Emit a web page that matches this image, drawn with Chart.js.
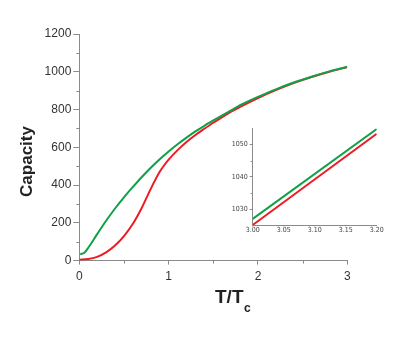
<!DOCTYPE html>
<html>
<head>
<meta charset="utf-8">
<script src="https://cdn.jsdelivr.net/npm/chart.js@4.4.1/dist/chart.umd.min.js"></script>
<style>
  body { margin: 0; background: #fff; }
  #wrap { position: relative; width: 415px; height: 339px; }
  #mainChart { position: absolute; left: 0; top: 0; }
  #insetChart { position: absolute; left: 220px; top: 120px; }
</style>
</head>
<body>
<div id="wrap">
  <canvas id="mainChart" width="415" height="339"></canvas>
  <canvas id="insetChart" width="170" height="120"></canvas>
</div>
<script>
// values (T/Tc, capacity)
const greenX = [0.01, 0.03, 0.06, 0.1, 0.2, 0.3, 0.4, 0.5, 0.6, 0.7, 0.8, 0.9, 1.0, 1.1, 1.2, 1.3, 1.4, 1.5, 1.6, 1.7, 1.8, 1.9, 2.0, 2.2, 2.4, 2.6, 2.8, 3.0];
const greenY = [34, 36, 43, 68, 140, 211, 276, 335, 390, 443, 492, 537, 578, 616, 651, 684, 714, 742, 769, 796, 823, 846, 867, 907, 943, 974, 1002, 1027];
const redX = [0.0, 0.1, 0.2, 0.3, 0.4, 0.5, 0.6, 0.7, 0.8, 0.9, 0.95, 1.0, 1.1, 1.2, 1.3, 1.4, 1.5, 1.6, 1.7, 1.8, 2.0, 2.2, 2.4, 2.6, 2.8, 3.0];
const redY = [5, 8, 20, 44, 80, 130, 195, 280, 380, 470, 505, 535, 585, 628, 665, 698, 730, 760, 789, 814, 861, 903, 940, 972, 1000, 1025];

// inset (zoom on 3.0 - 3.2)
const insetX = [3.00, 3.20];
const insetGreenY = [1027.0, 1054.8];
const insetRedY = [1025.1, 1053.3];

const xTicks = [0, 1, 2, 3];
const yTicks = [0, 200, 400, 600, 800, 1000, 1200];
const insetXTicks = [3.00, 3.05, 3.10, 3.15, 3.20];
const insetYTicks = [1030, 1040, 1050];

const GREEN = '#10a048';
const RED = '#ec1c24';
const AXIS = '#8a8a8a';

function pts(xs, ys) {
    return xs.map((x, i) => ({ x: x, y: ys[i] }));
}

function setTicks(list) {
    return function (scale) {
        scale.ticks = list.map(v => ({ value: v }));
    };
}

// small minor ticks between the major ones
const minorTicks = {
    id: 'minorTicks',
    afterDraw(chart, args, opts) {
        const ctx = chart.ctx;
        const xs = chart.scales.x, ys = chart.scales.y;
        ctx.save();
        ctx.strokeStyle = AXIS;
        ctx.lineWidth = 1;
        (opts.x || []).forEach(v => {
            const px = Math.round(xs.getPixelForValue(v)) + 0.5;
            ctx.beginPath();
            ctx.moveTo(px, ys.bottom);
            ctx.lineTo(px, ys.bottom + opts.len);
            ctx.stroke();
        });
        (opts.y || []).forEach(v => {
            const py = Math.round(ys.getPixelForValue(v)) + 0.5;
            ctx.beginPath();
            ctx.moveTo(xs.left, py);
            ctx.lineTo(xs.left - opts.len, py);
            ctx.stroke();
        });
        ctx.restore();
    }
};

// axis titles ("T/Tc" needs a subscript)
const axisTitles = {
    id: 'axisTitles',
    afterDraw(chart) {
        const ctx = chart.ctx;
        ctx.save();
        ctx.fillStyle = '#222';
        ctx.font = 'bold 19px "Liberation Sans", Arial, sans-serif';
        ctx.textAlign = 'left';
        ctx.textBaseline = 'alphabetic';
        ctx.fillText('T/T', 215, 303);
        const w = ctx.measureText('T/T').width;
        ctx.font = 'bold 12px "Liberation Sans", Arial, sans-serif';
        ctx.fillText('c', 215 + w + 0.5, 311.5);

        ctx.translate(31.5, 161.5);
        ctx.rotate(-Math.PI / 2);
        ctx.textAlign = 'center';
        ctx.font = 'bold 17px "Liberation Sans", Arial, sans-serif';
        ctx.fillText('Capacity', 0, 0);
        ctx.restore();
    }
};

const lineStyle = {
    borderWidth: 2,
    pointRadius: 0,
    fill: false,
    cubicInterpolationMode: 'monotone'
};

new Chart(document.getElementById('mainChart'), {
    type: 'line',
    data: {
        datasets: [
            Object.assign({ label: 'green', data: pts(greenX, greenY), borderColor: GREEN }, lineStyle),
            Object.assign({ label: 'red', data: pts(redX, redY), borderColor: RED }, lineStyle)
        ]
    },
    options: {
        responsive: false,
        animation: false,
        layout: { padding: { left: 0, top: 34, right: 67.7, bottom: 0 } },
        plugins: {
            legend: { display: false },
            tooltip: { enabled: false },
            minorTicks: { x: [0.5, 1.5, 2.5], y: [100, 300, 500, 700, 900, 1100], len: 3 }
        },
        scales: {
            x: {
                type: 'linear',
                min: 0,
                max: 3,
                afterBuildTicks: setTicks(xTicks),
                afterFit: s => { s.height = 78.4; },
                border: { color: AXIS, width: 1 },
                grid: { drawOnChartArea: false, color: AXIS, tickLength: 4 },
                ticks: {
                    color: '#333',
                    padding: 5,
                    font: { family: '"Liberation Sans", Arial, sans-serif', size: 12 },
                    callback: v => String(v)
                }
            },
            y: {
                min: 0,
                max: 1200,
                afterBuildTicks: setTicks(yTicks),
                afterFit: s => { s.width = 79.3; },
                border: { color: AXIS, width: 1 },
                grid: { drawOnChartArea: false, color: AXIS, tickLength: 6 },
                ticks: {
                    color: '#333',
                    padding: 2,
                    font: { family: '"Liberation Sans", Arial, sans-serif', size: 12 },
                    callback: v => String(v)
                }
            }
        }
    },
    plugins: [minorTicks, axisTitles]
});

const insetFont = { family: '"Liberation Sans Narrow", "DejaVu Sans Condensed", Arial, sans-serif', size: 7 };

new Chart(document.getElementById('insetChart'), {
    type: 'line',
    data: {
        datasets: [
            { label: 'green', data: pts(insetX, insetGreenY), borderColor: GREEN, borderWidth: 2, pointRadius: 0 },
            { label: 'red', data: pts(insetX, insetRedY), borderColor: RED, borderWidth: 2, pointRadius: 0 }
        ]
    },
    options: {
        responsive: false,
        animation: false,
        layout: { padding: { left: 0, top: 8.3, right: 13.3, bottom: 0 } },
        plugins: {
            legend: { display: false },
            tooltip: { enabled: false },
            minorTicks: { y: [1035, 1045], len: 2 }
        },
        scales: {
            x: {
                type: 'linear',
                min: 3.0,
                max: 3.2,
                afterBuildTicks: setTicks(insetXTicks),
                afterFit: s => { s.height = 14.7; },
                border: { color: AXIS, width: 1 },
                grid: { drawOnChartArea: false, color: AXIS, tickLength: 1 },
                ticks: { color: '#444', padding: 0, font: insetFont, callback: v => v.toFixed(2) }
            },
            y: {
                min: 1025,
                max: 1055,
                afterBuildTicks: setTicks(insetYTicks),
                afterFit: s => { s.width = 32.7; },
                border: { color: AXIS, width: 1 },
                grid: { drawOnChartArea: false, color: AXIS, tickLength: 3 },
                ticks: { color: '#444', padding: 2, font: insetFont, callback: v => String(v) }
            }
        }
    },
    plugins: [minorTicks]
});
</script>
</body>
</html>
